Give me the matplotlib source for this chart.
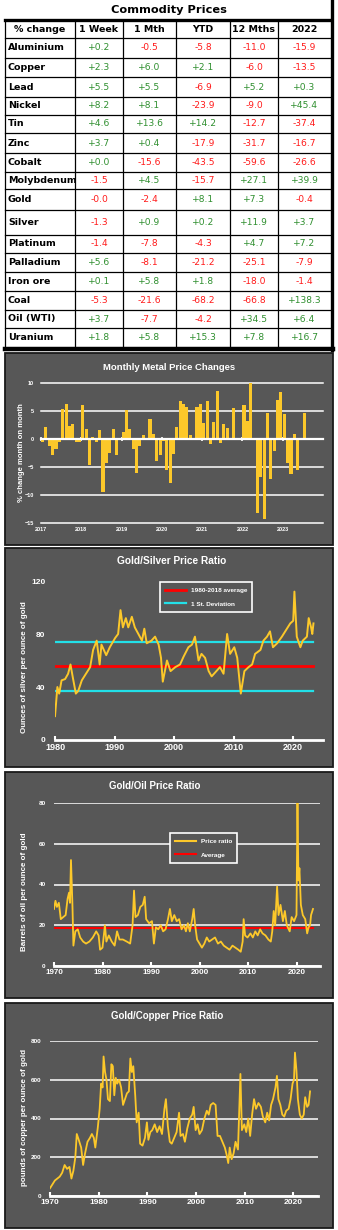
import matplotlib
matplotlib.use("Agg")
import matplotlib.pyplot as plt
from matplotlib.patches import Rectangle
from matplotlib.lines import Line2D
import matplotlib.transforms as mtransforms

# ---- table data ----
TABLE_TITLE = "Commodity Prices"
header = ["% change", "1 Week", "1 Mth", "YTD", "12 Mths", "2022"]
commodities = ["Aluminium", "Copper", "Lead", "Nickel", "Tin", "Zinc", "Cobalt", "Molybdenum",
               "Gold", "Silver", "Platinum", "Palladium", "Iron ore", "Coal", "Oil (WTI)", "Uranium"]
week = ["+0.2", "+2.3", "+5.5", "+8.2", "+4.6", "+3.7", "+0.0", "-1.5",
        "-0.0", "-1.3", "-1.4", "+5.6", "+0.1", "-5.3", "+3.7", "+1.8"]
month = ["-0.5", "+6.0", "+5.5", "+8.1", "+13.6", "+0.4", "-15.6", "+4.5",
         "-2.4", "+0.9", "-7.8", "-8.1", "+5.8", "-21.6", "-7.7", "+5.8"]
ytd = ["-5.8", "+2.1", "-6.9", "-23.9", "+14.2", "-17.9", "-43.5", "-15.7",
       "+8.1", "+0.2", "-4.3", "-21.2", "+1.8", "-68.2", "-4.2", "+15.3"]
twelve_mths = ["-11.0", "-6.0", "+5.2", "-9.0", "-12.7", "-31.7", "-59.6", "+27.1",
               "+7.3", "+11.9", "+4.7", "-25.1", "-18.0", "-66.8", "+34.5", "+7.8"]
year_2022 = ["-15.9", "-13.5", "+0.3", "+45.4", "-37.4", "-16.7", "-26.6", "+39.9",
             "-0.4", "+3.7", "+7.2", "-7.9", "-1.4", "+138.3", "+6.4", "+16.7"]

# ---- monthly metal price changes, Jan 2017 onwards (%) ----
monthly_start = 2017
monthly_change = [-0.5, 2.2, -1.2, -2.9, -1.8, -0.5, 5.4, 6.2, 2.3, 2.6, -0.5, -0.5,
                  6.1, 1.8, -4.7, 0.4, -0.5, 1.6, -9.5, -4.2, -2.5, 1.8, -2.9, 0.1,
                  1.2, 5.1, 1.8, -1.7, -6.0, -1.3, 0.7, 0.0, 3.6, 0.9, -3.9, -2.9,
                  -0.3, -5.5, -7.8, -2.7, 2.1, 6.8, 6.2, 5.8, 0.7, 0.0, 5.8, 6.3,
                  2.9, 6.7, -0.9, 3.0, 8.6, -0.7, 2.6, 1.9, 0.0, 5.6, 0.0, 0.1,
                  6.0, 3.3, 10.0, 0.1, -13.2, -6.8, -14.2, 4.7, -7.1, -2.2, 7.0, 8.4,
                  4.5, -4.3, -6.3, 0.9, -5.6, 0.0, 4.7]

# ---- gold/silver ratio ----
gs_years = [1980.0, 1980.4, 1980.7, 1981.1, 1981.7, 1982.2, 1982.6, 1983.0, 1983.5, 1983.9,
            1984.5, 1985.2, 1985.9, 1986.4, 1987.0, 1987.5, 1987.8, 1988.6, 1989.2, 1990.1,
            1990.6, 1991.0, 1991.4, 1991.9, 1992.3, 1992.9, 1993.4, 1994.0, 1994.6, 1995.0,
            1995.4, 1996.2, 1996.8, 1997.4, 1997.8, 1998.1, 1998.8, 1999.4, 2000.2, 2001.0,
            2001.6, 2002.4, 2003.0, 2003.5, 2004.1, 2004.6, 2005.2, 2005.8, 2006.3, 2007.1,
            2007.7, 2008.3, 2008.9, 2009.4, 2010.1, 2010.6, 2011.2, 2011.8, 2012.5, 2013.1,
            2013.6, 2014.5, 2015.0, 2015.6, 2016.1, 2016.6, 2017.3, 2018.1, 2018.8, 2019.5,
            2020.0, 2020.2, 2020.6, 2021.2, 2021.6, 2022.3, 2022.6, 2023.0, 2023.2, 2023.4]
gs_ratio = [18, 40, 35, 45, 46, 50, 57, 47, 35, 37,
            45, 50, 55, 68, 75, 57, 72, 64, 70, 77,
            80, 98, 85, 92, 85, 93, 85, 80, 75, 84,
            73, 75, 78, 72, 62, 44, 60, 52, 55, 57,
            63, 70, 72, 78, 60, 65, 62, 52, 48, 52,
            55, 50, 80, 65, 70, 62, 35, 52, 55, 57,
            65, 68, 75, 78, 82, 70, 73, 78, 83, 88,
            90, 112, 78, 70, 75, 78, 92, 85, 80, 88]
gs_average = 55.5
gs_sd_high = 74.3
gs_sd_low = 37.0

# ---- gold/oil ratio ----
go_years = [1970.0, 1970.3, 1970.6, 1971.0, 1971.4, 1971.9, 1972.4, 1972.8, 1973.1, 1973.3,
            1973.5, 1973.8, 1974.0, 1974.4, 1974.9, 1975.4, 1976.0, 1976.6, 1977.3, 1978.0,
            1978.7, 1979.2, 1979.5, 1980.0, 1980.5, 1980.8, 1981.3, 1981.9, 1982.5, 1983.0,
            1983.5, 1984.2, 1985.0, 1985.7, 1986.2, 1986.5, 1986.8, 1987.3, 1987.8, 1988.3,
            1988.7, 1989.0, 1989.6, 1990.2, 1990.6, 1991.0, 1991.5, 1992.0, 1992.5, 1993.0,
            1993.5, 1993.9, 1994.3, 1994.8, 1995.3, 1995.8, 1996.3, 1996.8, 1997.2, 1997.6,
            1998.0, 1998.5, 1998.8, 1999.1, 1999.5, 2000.0, 2000.5, 2001.0, 2001.5, 2002.0,
            2002.6, 2003.2, 2003.8, 2004.4, 2005.0, 2005.6, 2006.2, 2006.8, 2007.4, 2008.0,
            2008.5, 2008.9, 2009.1, 2009.4, 2009.9, 2010.5, 2011.0, 2011.5, 2012.0, 2012.5,
            2013.0, 2013.6, 2014.2, 2014.7, 2015.0, 2015.3, 2015.6, 2016.0, 2016.3, 2016.7,
            2017.2, 2017.6, 2018.0, 2018.6, 2019.0, 2019.5, 2020.0, 2020.2, 2020.4, 2020.6,
            2020.9, 2021.3, 2021.8, 2022.2, 2022.5, 2022.8, 2023.0, 2023.4]
go_ratio = [28, 32, 29, 31, 23, 24, 25, 33, 36, 31,
            52, 30, 10, 17, 18, 14, 12, 11, 12, 14,
            17, 15, 8, 9, 20, 12, 15, 12, 10, 17,
            13, 13, 12, 11, 20, 37, 24, 25, 29, 30,
            34, 23, 21, 22, 11, 19, 18, 20, 17, 18,
            23, 28, 22, 25, 22, 23, 18, 20, 17, 21,
            17, 23, 28, 20, 13, 11, 9, 11, 14, 12,
            13, 14, 11, 12, 10, 9, 8, 10, 9, 8,
            7, 12, 23, 15, 14, 16, 14, 17, 15, 18,
            16, 15, 13, 12, 17, 27, 20, 39, 25, 30,
            22, 27, 20, 17, 24, 22, 25, 80, 42, 48,
            30, 25, 23, 16, 19, 20, 25, 28]
go_average = 18.6

# ---- gold/copper ratio ----
gc_years = [1970.0, 1970.5, 1971.0, 1971.5, 1972.0, 1972.5, 1973.0, 1973.5, 1974.0, 1974.4,
            1974.8, 1975.2, 1975.5, 1975.9, 1976.4, 1976.8, 1977.2, 1977.7, 1978.2, 1978.6,
            1979.0, 1979.3, 1979.8, 1980.2, 1980.5, 1980.8, 1981.0, 1981.3, 1981.6, 1981.9,
            1982.3, 1982.6, 1982.9, 1983.2, 1983.5, 1983.8, 1984.2, 1984.6, 1985.0, 1985.4,
            1985.8, 1986.2, 1986.5, 1986.8, 1987.1, 1987.5, 1987.8, 1988.2, 1988.5, 1989.0,
            1989.5, 1989.9, 1990.2, 1990.6, 1991.0, 1991.5, 1992.0, 1992.5, 1993.0, 1993.5,
            1993.8, 1994.2, 1994.6, 1995.0, 1995.5, 1996.0, 1996.5, 1996.8, 1997.3, 1997.7,
            1998.2, 1998.7, 1999.2, 1999.5, 1999.9, 2000.3, 2000.7, 2001.2, 2001.7, 2002.2,
            2002.6, 2003.0, 2003.5, 2004.0, 2004.4, 2004.9, 2005.4, 2005.9, 2006.3, 2006.6,
            2006.9, 2007.3, 2007.7, 2008.1, 2008.6, 2008.9, 2009.1, 2009.4, 2009.9, 2010.3,
            2010.7, 2011.1, 2011.5, 2011.9, 2012.3, 2012.8, 2013.3, 2013.7, 2014.2, 2014.6,
            2015.0, 2015.4, 2015.8, 2016.3, 2016.6, 2016.9, 2017.3, 2017.7, 2018.1, 2018.5,
            2019.0, 2019.4, 2019.8, 2020.1, 2020.3, 2020.6, 2020.9, 2021.3, 2021.7, 2022.1,
            2022.4, 2022.8, 2023.1, 2023.4]
gc_ratio = [40, 60, 80, 90, 100, 120, 160, 140, 150, 90,
            130, 200, 320, 290, 250, 160, 220, 280, 300, 320,
            300, 250, 350, 450, 580, 560, 720, 640, 600, 500,
            490, 680, 670, 520, 610, 580, 600, 560, 470, 500,
            530, 540, 710, 640, 670, 520, 380, 430, 270, 260,
            300, 380, 290, 330, 340, 370, 330, 360, 320, 450,
            500, 360, 280, 270, 300, 330, 430, 310, 320, 280,
            350, 400, 420, 460, 340, 370, 320, 340, 400, 440,
            420, 470, 480, 470, 310, 310, 280, 250, 210, 170,
            250, 190, 220, 280, 240, 480, 630, 340, 370, 330,
            400, 310, 420, 500, 450, 480, 460, 410, 380, 430,
            390, 470, 500, 560, 620, 500, 470, 420, 410, 440,
            450, 500, 580, 600, 740, 650, 500, 420, 400, 420,
            510, 460, 470, 540]

W, H = 338, 1230
PANEL = "#575757"
GOLD = "#fcc82a"
GREEN = "#2f8f2f"
RED = "#ff1a1a"
CHART_FONT = "Liberation Sans"

fig = plt.figure(figsize=(W / 100, H / 100), dpi=100)
fig.patch.set_facecolor("white")

# background axes in pixel coords (y down)
bg = fig.add_axes([0, 0, 1, 1])
bg.set_xlim(0, W)
bg.set_ylim(H, 0)
bg.axis("off")

# ---------------- table ----------------
col_edges = [5, 75, 123, 176, 230, 278, 331]
row_edges = [20, 38, 58, 77, 97, 115, 133, 153, 172, 189, 210, 235, 253, 272, 291, 310, 328, 348]

bg.text(169, 10, TABLE_TITLE, ha="center", va="center", fontsize=8.2, fontweight="bold",
        family="DejaVu Sans")
for y in row_edges[1:-1]:
    bg.plot([col_edges[0], col_edges[-1]], [y, y], color="black", lw=0.9)
bg.plot([col_edges[0], col_edges[-1]], [row_edges[0], row_edges[0]], color="black", lw=2.4)
bg.plot([col_edges[0], col_edges[-1] + 1.5], [row_edges[-1] + 1, row_edges[-1] + 1], color="black", lw=3.2)
for x in col_edges[:-1]:
    bg.plot([x, x], [row_edges[0], row_edges[-1]], color="black", lw=0.9)
bg.plot([col_edges[-1] + 0.5, col_edges[-1] + 0.5], [0, row_edges[-1] + 2], color="black", lw=2.4)

for j, h in enumerate(header):
    cx = (col_edges[j] + col_edges[j + 1]) / 2
    bg.text(cx, (row_edges[0] + row_edges[1]) / 2 + 0.5, h, ha="center", va="center",
            fontsize=6.8, fontweight="bold", family="DejaVu Sans")

columns = [week, month, ytd, twelve_mths, year_2022]
for i, name in enumerate(commodities):
    cy = (row_edges[i + 1] + row_edges[i + 2]) / 2
    bg.text(8, cy, name, ha="left", va="center", fontsize=6.8, fontweight="bold", family="DejaVu Sans")
    for j, col in enumerate(columns):
        v = col[i]
        cx = (col_edges[j + 1] + col_edges[j + 2]) / 2
        bg.text(cx, cy, v, ha="center", va="center", fontsize=6.6, family="DejaVu Sans",
                color=GREEN if v.startswith("+") else RED)

# ---------------- panels ----------------
panels = [(5, 353, 333, 545), (5, 548, 333, 767), (5, 772, 333, 998), (5, 1003, 333, 1228)]
for x0, y0, x1, y1 in panels:
    bg.add_patch(Rectangle((x0, y0), x1 - x0, y1 - y0, facecolor=PANEL, edgecolor="#1a1a1a", lw=1.3))


def chart_axes(x0, y0, x1, y1):
    ax = fig.add_axes([x0 / W, 1 - y1 / H, (x1 - x0) / W, (y1 - y0) / H])
    ax.set_facecolor("none")
    for s in ax.spines.values():
        s.set_visible(False)
    return ax


def style_ticks(ax, xsize, ysize):
    for lab in ax.get_xticklabels():
        lab.set_fontsize(xsize)
    for lab in ax.get_yticklabels():
        lab.set_fontsize(ysize)
    for lab in ax.get_xticklabels() + ax.get_yticklabels():
        lab.set_color("white")
        lab.set_fontweight("bold")
        lab.set_family(CHART_FONT)


def title(x, y, s, size):
    bg.text(x, y, s, ha="center", va="center", color="white", fontsize=size,
            fontweight="bold", family=CHART_FONT)


def ylabel(x, y, s, size):
    bg.text(x, y, s, ha="center", va="center", color="white", fontsize=size,
            fontweight="bold", family=CHART_FONT, rotation=90)


def legend(ax, handles, x, y, size):
    leg = ax.legend(handles=handles, loc="upper left", bbox_to_anchor=(x / W, 1 - y / H),
                    bbox_transform=fig.transFigure, facecolor=PANEL, edgecolor="white",
                    framealpha=1, fancybox=False, labelspacing=1.3, handlelength=3.2,
                    borderpad=0.8, prop={"family": CHART_FONT, "weight": "bold", "size": size})
    leg.get_frame().set_linewidth(1.2)
    for t in leg.get_texts():
        t.set_color("white")


# ---------------- monthly metal price changes ----------------
title(169, 368, "Monthly Metal Price Changes", 6.8)
ax = chart_axes(41, 383, 323, 523)
xs = [monthly_start + i / 12 for i in range(len(monthly_change))]
ax.bar(xs, monthly_change, width=0.078, align="edge", color=GOLD, zorder=3)
ax.set_xlim(2017, 2024)
ax.set_ylim(-15, 10)
ax.set_yticks([-15, -10, -5, 0, 5, 10])
for v in [-15, -10, -5, 5, 10]:
    ax.axhline(v, color="white", lw=1.1, zorder=1, clip_on=False)
ax.spines["bottom"].set_visible(True)
ax.spines["bottom"].set_position(("data", 0))
ax.spines["bottom"].set_color("white")
ax.spines["bottom"].set_linewidth(1.6)
ax.spines["bottom"].set_zorder(4)
years_m = list(range(2017, 2024))
ax.set_xticks(years_m)
ax.tick_params(axis="x", colors="white", length=3, width=1.2, direction="inout", labelbottom=False)
ax.tick_params(axis="y", length=0, pad=5)
trans = mtransforms.blended_transform_factory(ax.transData, ax.transAxes)
for yr in years_m:
    ax.text(yr, -0.03, str(yr), transform=trans, ha="center", va="top", color="white",
            fontsize=4, fontweight="bold", family=CHART_FONT)
style_ticks(ax, 4, 4)
ylabel(22, 453, "% change month on month", 5.5)

# ---------------- gold/silver ----------------
title(172, 561, "Gold/Silver Price Ratio", 7.3)
ax = chart_axes(55, 581, 323, 740)
ax.plot([gs_years[0], gs_years[-1]], [gs_average] * 2, color="red", lw=2, zorder=2)
ax.plot([gs_years[0], gs_years[-1]], [gs_sd_high] * 2, color="#22e0e8", lw=1.6, zorder=2)
ax.plot([gs_years[0], gs_years[-1]], [gs_sd_low] * 2, color="#22e0e8", lw=1.6, zorder=2)
ax.plot(gs_years, gs_ratio, color=GOLD, lw=1.4, zorder=3)
ax.set_xlim(1980, 2025)
ax.set_ylim(0, 120)
ax.set_yticks([0, 40, 80, 120])
ax.set_xticks([1980, 1990, 2000, 2010, 2020])
ax.spines["bottom"].set_visible(True)
ax.spines["bottom"].set_color("white")
ax.spines["bottom"].set_linewidth(2)
ax.tick_params(axis="x", colors="white", length=3, width=1.5, direction="in", pad=2)
ax.tick_params(axis="y", length=0, pad=7)
style_ticks(ax, 6.5, 6)
legend(ax, [Line2D([], [], color="red", lw=2, label="1980-2018 average"),
            Line2D([], [], color="#22e0e8", lw=1.6, label="1 St. Deviation")], 157, 579, 4.6)
ylabel(25, 667, "Ounces of silver per ounce of gold", 5.8)

# ---------------- gold/oil ----------------
title(155, 786, "Gold/Oil Price Ratio", 7)
ax = chart_axes(54, 803, 320, 966)
ax.plot([go_years[0], go_years[-1]], [go_average] * 2, color="red", lw=1.4, zorder=2)
ax.plot(go_years, go_ratio, color=GOLD, lw=1.3, zorder=3)
ax.set_xlim(1970, 1970 + (320 - 54) / 4.85)
ax.set_ylim(0, 80)
ax.set_yticks([0, 20, 40, 60, 80])
ax.set_xticks([1970, 1980, 1990, 2000, 2010, 2020])
ax.grid(axis="y", color="white", lw=1.1, zorder=1)
ax.set_axisbelow(True)
ax.spines["bottom"].set_visible(True)
ax.spines["bottom"].set_color("white")
ax.spines["bottom"].set_linewidth(2)
ax.tick_params(axis="x", colors="white", length=3, width=1.5, direction="in", pad=2)
ax.tick_params(axis="y", length=0, pad=6)
style_ticks(ax, 5.8, 4.6)
legend(ax, [Line2D([], [], color=GOLD, lw=1.5, label="Price ratio"),
            Line2D([], [], color="red", lw=1.5, label="Average")], 167, 830, 4.6)
ylabel(25, 892, "Barrels of oil per ounce of gold", 5.8)

# ---------------- gold/copper ----------------
title(167, 1016, "Gold/Copper Price Ratio", 7)
ax = chart_axes(50, 1041, 318, 1196)
ax.plot(gc_years, gc_ratio, color=GOLD, lw=1.3, zorder=3)
ax.set_xlim(1970, 1970 + (318 - 50) / 4.87)
ax.set_ylim(0, 800)
ax.set_yticks([0, 200, 400, 600, 800])
ax.set_xticks([1970, 1980, 1990, 2000, 2010, 2020])
ax.grid(axis="y", color="white", lw=1.1, zorder=1)
ax.set_axisbelow(True)
ax.spines["bottom"].set_visible(True)
ax.spines["bottom"].set_color("white")
ax.spines["bottom"].set_linewidth(2)
ax.tick_params(axis="x", colors="white", length=3, width=1.5, direction="in", pad=2)
ax.tick_params(axis="y", length=0, pad=6)
style_ticks(ax, 6, 4.6)
ylabel(25, 1117, "pounds of copper per ounce of gold", 5.8)

fig.savefig("out.png", dpi=100, facecolor="white")
